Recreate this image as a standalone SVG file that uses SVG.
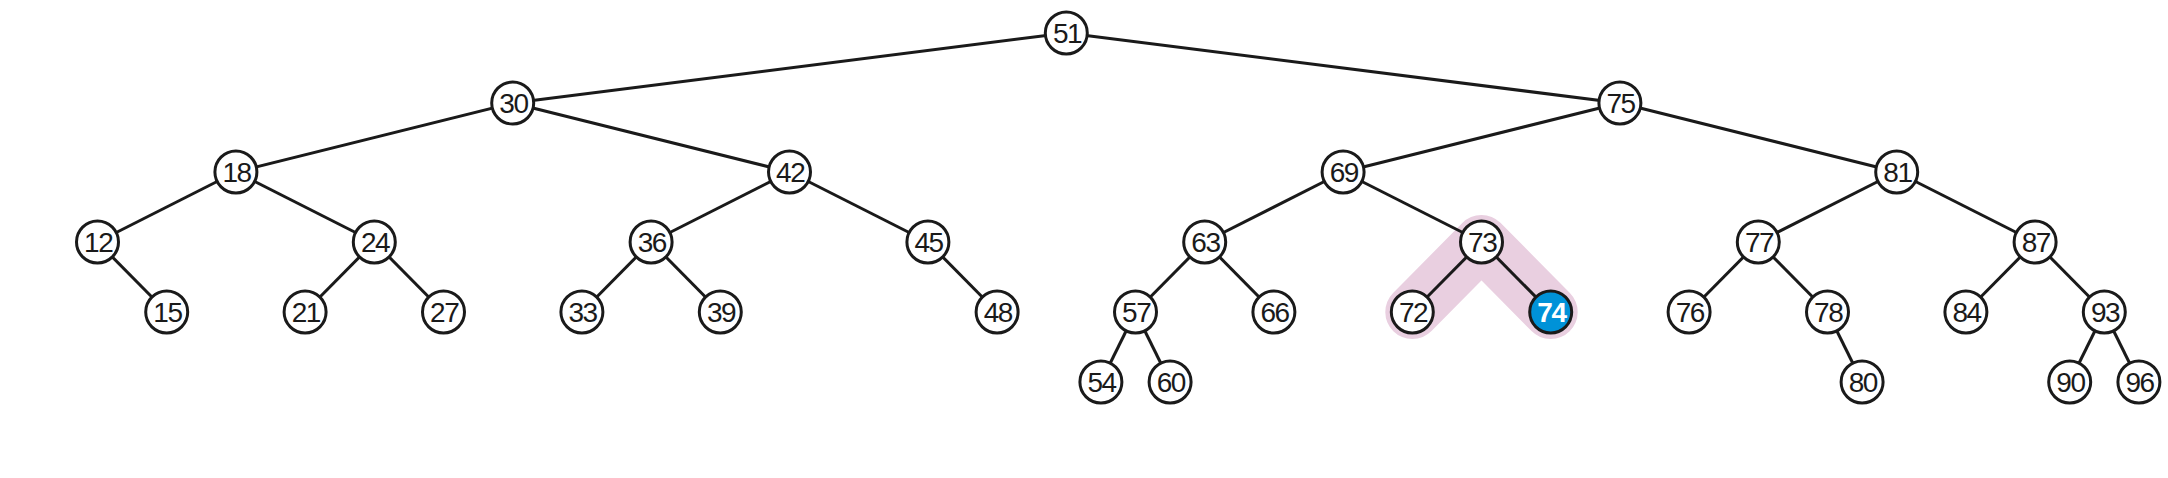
<svg xmlns="http://www.w3.org/2000/svg" width="2168" height="478" viewBox="0 0 2168 478">
<style>
.e{stroke:#1a1a1a;stroke-width:3;fill:none}
.n circle{fill:#fff;stroke:#1a1a1a;stroke-width:3}
.n text{font-family:"Liberation Sans",Arial,sans-serif;font-size:28px;fill:#1a1a1a;text-anchor:middle;letter-spacing:-1.5px}
#n74 circle{fill:#0092d8}
#n74 text{fill:#fff;font-weight:bold}
</style>
<rect width="2168" height="478" fill="#fff"/>
<path id="highlight" d="M1412.3,312 L1481.5,242 L1550.7,312" fill="none" stroke="#e9cfe0" stroke-width="54" stroke-linecap="round" stroke-linejoin="round"/>
<g id="connectors">
<line class="e" x1="1066.3" y1="33" x2="512.7" y2="103"/>
<line class="e" x1="1066.3" y1="33" x2="1619.9" y2="103"/>
<line class="e" x1="512.7" y1="103" x2="235.9" y2="172"/>
<line class="e" x1="512.7" y1="103" x2="789.5" y2="172"/>
<line class="e" x1="1619.9" y1="103" x2="1343.1" y2="172"/>
<line class="e" x1="1619.9" y1="103" x2="1896.7" y2="172"/>
<line class="e" x1="235.9" y1="172" x2="97.5" y2="242"/>
<line class="e" x1="235.9" y1="172" x2="374.3" y2="242"/>
<line class="e" x1="789.5" y1="172" x2="651.1" y2="242"/>
<line class="e" x1="789.5" y1="172" x2="927.9" y2="242"/>
<line class="e" x1="1343.1" y1="172" x2="1204.7" y2="242"/>
<line class="e" x1="1343.1" y1="172" x2="1481.5" y2="242"/>
<line class="e" x1="1896.7" y1="172" x2="1758.3" y2="242"/>
<line class="e" x1="1896.7" y1="172" x2="2035.1" y2="242"/>
<line class="e" x1="97.5" y1="242" x2="166.7" y2="312"/>
<line class="e" x1="374.3" y1="242" x2="305.1" y2="312"/>
<line class="e" x1="374.3" y1="242" x2="443.5" y2="312"/>
<line class="e" x1="651.1" y1="242" x2="581.9" y2="312"/>
<line class="e" x1="651.1" y1="242" x2="720.3" y2="312"/>
<line class="e" x1="927.9" y1="242" x2="997.1" y2="312"/>
<line class="e" x1="1204.7" y1="242" x2="1135.5" y2="312"/>
<line class="e" x1="1204.7" y1="242" x2="1273.9" y2="312"/>
<line class="e" x1="1481.5" y1="242" x2="1412.3" y2="312"/>
<line class="e" x1="1481.5" y1="242" x2="1550.7" y2="312"/>
<line class="e" x1="1758.3" y1="242" x2="1689.1" y2="312"/>
<line class="e" x1="1758.3" y1="242" x2="1827.5" y2="312"/>
<line class="e" x1="2035.1" y1="242" x2="1965.9" y2="312"/>
<line class="e" x1="2035.1" y1="242" x2="2104.3" y2="312"/>
<line class="e" x1="1135.5" y1="312" x2="1100.9" y2="382"/>
<line class="e" x1="1135.5" y1="312" x2="1170.1" y2="382"/>
<line class="e" x1="1827.5" y1="312" x2="1862.1" y2="382"/>
<line class="e" x1="2104.3" y1="312" x2="2069.7" y2="382"/>
<line class="e" x1="2104.3" y1="312" x2="2138.9" y2="382"/>
</g>
<g id="n51" class="n"><circle cx="1066.3" cy="33" r="21"/><text x="1067" y="43">51</text></g>
<g id="n30" class="n"><circle cx="512.7" cy="103" r="21"/><text x="513.4" y="113">30</text></g>
<g id="n75" class="n"><circle cx="1619.9" cy="103" r="21"/><text x="1620.6" y="113">75</text></g>
<g id="n18" class="n"><circle cx="235.9" cy="172" r="21"/><text x="236.6" y="182">18</text></g>
<g id="n42" class="n"><circle cx="789.5" cy="172" r="21"/><text x="790.2" y="182">42</text></g>
<g id="n69" class="n"><circle cx="1343.1" cy="172" r="21"/><text x="1343.8" y="182">69</text></g>
<g id="n81" class="n"><circle cx="1896.7" cy="172" r="21"/><text x="1897.4" y="182">81</text></g>
<g id="n12" class="n"><circle cx="97.5" cy="242" r="21"/><text x="98.2" y="252">12</text></g>
<g id="n24" class="n"><circle cx="374.3" cy="242" r="21"/><text x="375" y="252">24</text></g>
<g id="n36" class="n"><circle cx="651.1" cy="242" r="21"/><text x="651.8" y="252">36</text></g>
<g id="n45" class="n"><circle cx="927.9" cy="242" r="21"/><text x="928.6" y="252">45</text></g>
<g id="n63" class="n"><circle cx="1204.7" cy="242" r="21"/><text x="1205.4" y="252">63</text></g>
<g id="n73" class="n"><circle cx="1481.5" cy="242" r="21"/><text x="1482.2" y="252">73</text></g>
<g id="n77" class="n"><circle cx="1758.3" cy="242" r="21"/><text x="1759" y="252">77</text></g>
<g id="n87" class="n"><circle cx="2035.1" cy="242" r="21"/><text x="2035.8" y="252">87</text></g>
<g id="n15" class="n"><circle cx="166.7" cy="312" r="21"/><text x="167.4" y="322">15</text></g>
<g id="n21" class="n"><circle cx="305.1" cy="312" r="21"/><text x="305.8" y="322">21</text></g>
<g id="n27" class="n"><circle cx="443.5" cy="312" r="21"/><text x="444.2" y="322">27</text></g>
<g id="n33" class="n"><circle cx="581.9" cy="312" r="21"/><text x="582.6" y="322">33</text></g>
<g id="n39" class="n"><circle cx="720.3" cy="312" r="21"/><text x="721" y="322">39</text></g>
<g id="n48" class="n"><circle cx="997.1" cy="312" r="21"/><text x="997.8" y="322">48</text></g>
<g id="n57" class="n"><circle cx="1135.5" cy="312" r="21"/><text x="1136.2" y="322">57</text></g>
<g id="n66" class="n"><circle cx="1273.9" cy="312" r="21"/><text x="1274.6" y="322">66</text></g>
<g id="n72" class="n"><circle cx="1412.3" cy="312" r="21"/><text x="1413" y="322">72</text></g>
<g id="n74" class="n"><circle cx="1550.7" cy="312" r="21"/><text x="1551.4" y="322">74</text></g>
<g id="n76" class="n"><circle cx="1689.1" cy="312" r="21"/><text x="1689.8" y="322">76</text></g>
<g id="n78" class="n"><circle cx="1827.5" cy="312" r="21"/><text x="1828.2" y="322">78</text></g>
<g id="n84" class="n"><circle cx="1965.9" cy="312" r="21"/><text x="1966.6" y="322">84</text></g>
<g id="n93" class="n"><circle cx="2104.3" cy="312" r="21"/><text x="2105" y="322">93</text></g>
<g id="n54" class="n"><circle cx="1100.9" cy="382" r="21"/><text x="1101.6" y="392">54</text></g>
<g id="n60" class="n"><circle cx="1170.1" cy="382" r="21"/><text x="1170.8" y="392">60</text></g>
<g id="n80" class="n"><circle cx="1862.1" cy="382" r="21"/><text x="1862.8" y="392">80</text></g>
<g id="n90" class="n"><circle cx="2069.7" cy="382" r="21"/><text x="2070.4" y="392">90</text></g>
<g id="n96" class="n"><circle cx="2138.9" cy="382" r="21"/><text x="2139.6" y="392">96</text></g>
</svg>
